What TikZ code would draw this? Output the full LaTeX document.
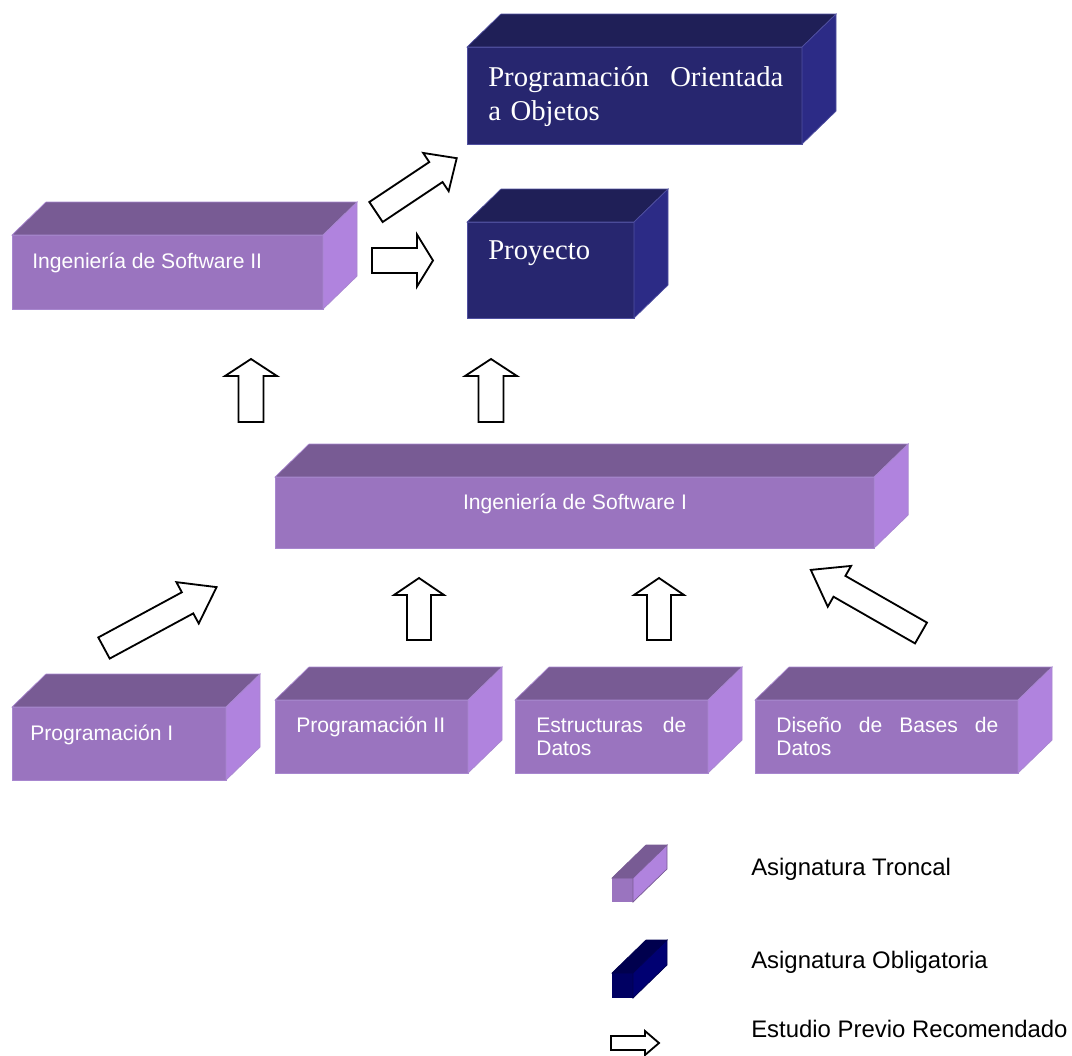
\documentclass[tikz,border=0pt]{standalone}
\usepackage{fontspec}
\setmainfont{Liberation Sans}
\newfontfamily\romana{Liberation Serif}

\definecolor{trfrente}{HTML}{9A74BF}
\definecolor{trtope}{HTML}{785B94}
\definecolor{trlado}{HTML}{B083DE}
\definecolor{trborde}{HTML}{A887CF}
\definecolor{obfrente}{HTML}{27266F}
\definecolor{obtope}{HTML}{1F1F57}
\definecolor{oblado}{HTML}{2C2B86}
\definecolor{obborde}{HTML}{5050A0}
\definecolor{lgfrente}{HTML}{000062}
\definecolor{lgtope}{HTML}{00004E}
\definecolor{lglado}{HTML}{000072}

\begin{document}
\begin{tikzpicture}[x=0.025cm,y=-0.025cm,
  caja/.style={anchor=north west,inner sep=0pt,outer sep=0pt,line width=0.5pt},
  troncal/.style={caja,fill=trfrente,draw=trborde},
  obligada/.style={caja,fill=obfrente,draw=obborde},
  rotulo/.style={white,inner sep=0pt,font=\fontsize{15pt}{17pt}\selectfont},
  rotuloserif/.style={white,inner sep=0pt,font=\romana\fontsize{20.4pt}{24.2pt}\selectfont},
  leyenda/.style={black,inner sep=0pt,anchor=base west,font=\fontsize{17pt}{20pt}\selectfont},
  flecha/.style={draw=black,fill=white,line width=1.3pt,line join=miter},
  pics/bloque/.style n args={4}{code={
    \draw[flecha] (0,-#2) -- (#1-#4,-#2) -- (#1-#4,-#3) -- (#1,0)
      -- (#1-#4,#3) -- (#1-#4,#2) -- (0,#2) -- cycle;}}]
  \useasboundingbox (0,0) rectangle (1072,1055);

  % caras frontales
  \node[obligada,minimum width=8.375cm,minimum height=2.425cm] (poo) at (467,47) {};
  \node[obligada,minimum width=4.175cm,minimum height=2.4cm] (proy) at (467,222) {};
  \node[troncal,minimum width=7.775cm,minimum height=1.85cm] (is2) at (12,235) {};
  \node[troncal,minimum width=14.975cm,minimum height=1.775cm] (is1) at (275,477) {};
  \node[troncal,minimum width=5.35cm,minimum height=1.825cm] (p1) at (12,707) {};
  \node[troncal,minimum width=4.825cm,minimum height=1.825cm] (p2) at (275,700) {};
  \node[troncal,minimum width=4.825cm,minimum height=1.825cm] (ed) at (515,700) {};
  \node[troncal,minimum width=6.575cm,minimum height=1.825cm] (dbd) at (755,700) {};
  \node[caja,fill=trfrente,minimum width=0.525cm,minimum height=0.6cm] (lt) at (612,878) {};
  \node[caja,fill=lgfrente,minimum width=0.525cm,minimum height=0.625cm] (lo) at (612,973) {};

  % tapas y lados
  \foreach \n/\t/\l/\b in {poo/obtope/oblado/obborde,proy/obtope/oblado/obborde,
      is2/trtope/trlado/trborde,is1/trtope/trlado/trborde,p1/trtope/trlado/trborde,
      p2/trtope/trlado/trborde,ed/trtope/trlado/trborde,dbd/trtope/trlado/trborde,
      lt/trtope/trlado/trtope,lo/lgtope/lglado/lgtope}{
    \filldraw[fill=\t,draw=\b,line width=0.5pt] (\n.north west) -- ++(34,-33)
      -- ([shift={(34,-33)}]\n.north east) -- (\n.north east) -- cycle;
    \filldraw[fill=\l,draw=\b,line width=0.5pt] (\n.north east) -- ++(34,-33)
      -- ([shift={(34,-33)}]\n.south east) -- (\n.south east) -- cycle;
  }

  % textos
  \node[rotuloserif,anchor=base west,text width=7.375cm,align=left] (tpoo) at (488,86)
    {Programación\hfill Orientada\\a Objetos};
  \node[rotuloserif,anchor=base west] (tproy) at (488,259) {Proyecto};
  \node[rotulo,anchor=base west] (tis2) at (32,268) {Ingeniería de Software II};
  \node[rotulo,anchor=base] (tis1) at (575,509) {Ingeniería de Software I};
  \node[rotulo,anchor=base west] (tp1) at (30,740) {Programación I};
  \node[rotulo,anchor=base west] (tp2) at (296,732) {Programación II};
  \node[rotulo,anchor=base west,text width=3.75cm,align=left] (ted) at (536,732)
    {Estructuras\hfill de\\Datos};
  \node[rotulo,anchor=base west,text width=5.55cm,align=left] (tdbd) at (776,732)
    {Diseño\hfill de\hfill Bases\hfill de\\Datos};

  % flechas
  \pic[rotate=33.7] (f1) at (376,212) {bloque={97}{12}{23}{25}};
  \pic (f2) at (372,260.5) {bloque={61}{12.5}{26}{16}};
  \pic[rotate=90] (f3) at (251,422) {bloque={63}{12.5}{26}{17}};
  \pic[rotate=90] (f4) at (491,422) {bloque={63}{12.5}{26}{17}};
  \pic[rotate=28.4] (f5) at (104,648) {bloque={128}{12}{23.5}{33}};
  \pic[rotate=90] (f6) at (419,640) {bloque={62}{12}{25}{17}};
  \pic[rotate=90] (f7) at (659,640) {bloque={62}{12}{25}{17}};
  \pic[rotate=150.2] (f8) at (921,633) {bloque={127}{12}{23.5}{33}};

  % leyenda
  \pic (fl) at (611,1043) {bloque={48}{7}{12}{14}};
  \node[leyenda] (l1) at (751,875) {Asignatura Troncal};
  \node[leyenda] (l2) at (751,968) {Asignatura Obligatoria};
  \node[leyenda] (l3) at (751,1037) {Estudio Previo Recomendado};
\end{tikzpicture}
\end{document}
